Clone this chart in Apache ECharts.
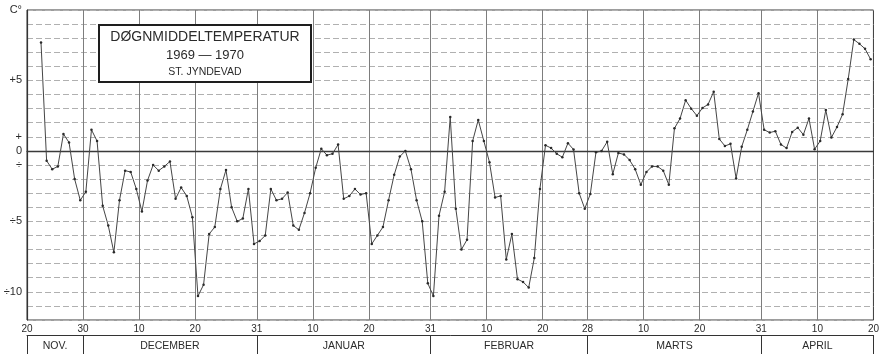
<!DOCTYPE html>
<html>
<head>
<meta charset="utf-8">
<script src="https://cdn.jsdelivr.net/npm/echarts@6/dist/echarts.min.js"></script>
<style>
  html, body { margin: 0; padding: 0; background: #fff; }
  #chart { width: 882px; height: 354px; }
</style>
</head>
<body>
<div id="chart"></div>
<script>
// Day numbers count from 20 Nov 1969 (day 0) to 20 Apr 1970 (day 151).
// Each daily mean is plotted at the middle of its day.
const firstDay = 2; // 22 Nov 1969

// Daily mean temperature, °C, St. Jyndevad, 22 Nov 1969 – 19 Apr 1970
const dailyMean = [
  7.7, -0.7, -1.3, -1.1, 1.2, 0.6, -2.0, -3.5, -2.9, 1.5,
  0.7, -3.9, -5.3, -7.2, -3.5, -1.4, -1.5, -2.7, -4.3, -2.1,
  -1.0, -1.4, -1.1, -0.75, -3.4, -2.6, -3.2, -4.7, -10.3, -9.5,
  -5.9, -5.4, -2.7, -1.35, -4.0, -5.0, -4.8, -2.7, -6.6, -6.4,
  -6.0, -2.7, -3.5, -3.4, -2.95, -5.3, -5.6, -4.4, -3.0, -1.2,
  0.15, -0.3, -0.2, 0.45, -3.4, -3.2, -2.7, -3.1, -3.0, -6.6,
  -6.0, -5.4, -3.5, -1.7, -0.4, 0.0, -1.3, -3.5, -5.0, -9.4,
  -10.3, -4.6, -2.9, 2.4, -4.1, -7.0, -6.3, 0.7, 2.2, 0.7,
  -0.8, -3.3, -3.2, -7.7, -5.9, -9.1, -9.3, -9.7, -7.6, -2.7,
  0.4, 0.2, -0.2, -0.45, 0.55, 0.1, -3.0, -4.1, -3.05, -0.1,
  0.0, 0.65, -1.65, -0.15, -0.25, -0.65, -1.3, -2.4, -1.5, -1.1,
  -1.1, -1.4, -2.4, 1.6, 2.3, 3.6, 3.0, 2.5, 3.05, 3.3,
  4.2, 0.85, 0.35, 0.5, -1.95, 0.3, 1.5, 2.8, 4.1, 1.5,
  1.3, 1.4, 0.45, 0.2, 1.35, 1.65, 1.15, 2.3, 0.12, 0.7,
  2.9, 0.95, 1.7, 2.6, 5.1, 7.9, 7.6, 7.25, 6.5
];

// Date ticks along the time axis
const xTickDays   = [0, 10, 20, 30, 41, 51, 61, 72, 82, 92, 100, 110, 120, 131, 141, 151];
const xTickLabels = ['20', '30', '10', '20', '31', '10', '20', '31', '10', '20', '28', '10', '20', '31', '10', '20'];

// Month row
const monthNames  = ['NOV.', 'DECEMBER', 'JANUAR', 'FEBRUAR', 'MARTS', 'APRIL'];
const monthBounds = [0, 10, 41, 72, 100, 131, 151];

// Temperature ticks (÷ is the Danish minus sign)
const yTickValues = [10, 5, 1, 0, -1, -5, -10];
const yTickLabels = ['C°', '+5', '+', '0', '÷', '÷5', '÷10'];

const FONT = "'Liberation Sans', Arial, sans-serif";
const INK = '#2b2b2b';

const seriesData = dailyMean.map((v, k) => [firstDay + k + 0.5, v]);
const monthMids = monthNames.map((_, i) => (monthBounds[i] + monthBounds[i + 1]) / 2);

function lookup(values, labels, v) {
  for (let i = 0; i < values.length; i++) {
    if (Math.abs(values[i] - v) < 1e-6) return labels[i];
  }
  return '';
}

const gridLines = xTickDays.slice(1, -1).map(d => ({
  xAxis: d,
  lineStyle: { color: '#7d7d7d', width: 1, type: 'solid' }
}));
gridLines.push({ yAxis: 0, lineStyle: { color: '#3a3a3a', width: 1.3, type: 'solid' } });

const chart = echarts.init(document.getElementById('chart'), null, { renderer: 'canvas' });

chart.setOption({
  animation: false,
  backgroundColor: '#fff',
  grid: {
    left: 27, right: 7, top: 10, bottom: 34,
    show: true, borderColor: '#3a3a3a', borderWidth: 1
  },
  xAxis: [
    {
      type: 'value', min: 0, max: 151,
      axisLine: { show: true, lineStyle: { color: '#333', width: 1.2 } },
      axisTick: { show: false },
      splitLine: { show: false },
      axisLabel: {
        customValues: xTickDays,
        formatter: v => lookup(xTickDays, xTickLabels, v),
        color: INK, fontFamily: FONT, fontSize: 10, margin: 4
      }
    },
    {
      type: 'value', min: 0, max: 151, position: 'bottom', offset: 15,
      axisLine: { show: true, lineStyle: { color: '#333', width: 1 } },
      axisTick: {
        show: true, customValues: monthBounds, length: 20, inside: false,
        lineStyle: { color: '#333', width: 1 }
      },
      splitLine: { show: false },
      axisLabel: {
        customValues: monthMids,
        formatter: v => lookup(monthMids, monthNames, v),
        color: INK, fontFamily: FONT, fontSize: 10.5, margin: 6
      }
    }
  ],
  yAxis: {
    type: 'value', min: -12, max: 10, interval: 1,
    axisLine: { show: true, lineStyle: { color: '#333', width: 1.2 } },
    axisTick: { show: false },
    axisLabel: {
      customValues: yTickValues,
      formatter: v => lookup(yTickValues, yTickLabels, v),
      color: INK, fontFamily: FONT, fontSize: 11, margin: 5
    },
    splitLine: { show: true, lineStyle: { color: '#b0b0b0', width: 1, type: [6, 3] } }
  },
  series: [{
    type: 'line',
    data: seriesData,
    showSymbol: true,
    symbol: 'circle',
    symbolSize: 2.5,
    lineStyle: { color: '#454545', width: 1 },
    itemStyle: { color: '#2a2a2a' },
    z: 3,
    markLine: {
      silent: true,
      symbol: 'none',
      label: { show: false },
      data: gridLines,
      z: 1
    }
  }],
  graphic: [{
    type: 'group',
    left: 98, top: 24,
    z: 100,
    children: [
      {
        type: 'rect',
        z: 100,
        shape: { x: 1, y: 1, width: 212, height: 57 },
        style: { fill: '#fff', stroke: '#1e1e1e', lineWidth: 2 }
      },
      {
        type: 'text', x: 107, y: 13.5, z: 101,
        style: { text: 'DØGNMIDDELTEMPERATUR', fill: INK, font: '14px ' + FONT, align: 'center', verticalAlign: 'middle' }
      },
      {
        type: 'text', x: 107, y: 31.5, z: 101,
        style: { text: '1969 — 1970', fill: INK, font: '13px ' + FONT, align: 'center', verticalAlign: 'middle' }
      },
      {
        type: 'text', x: 107, y: 48.5, z: 101,
        style: { text: 'ST. JYNDEVAD', fill: INK, font: '10.5px ' + FONT, align: 'center', verticalAlign: 'middle' }
      }
    ]
  }]
});
</script>
</body>
</html>
